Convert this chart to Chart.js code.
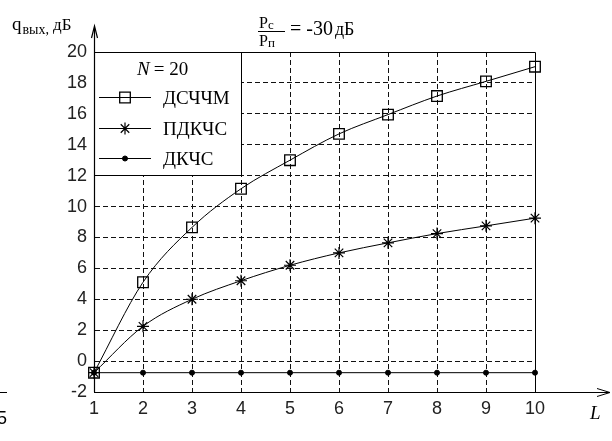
<!DOCTYPE html>
<html>
<head>
<meta charset="utf-8">
<script src="https://cdn.jsdelivr.net/npm/chart.js@4.4.0/dist/chart.umd.min.js"></script>
<style>
  html, body { margin: 0; padding: 0; background: #fff; }
  #wrap { width: 612px; height: 441px; }
</style>
</head>
<body>
<div id="wrap"><canvas id="chart" width="612" height="441"></canvas></div>
<script>
// data
const L_VALUES = [1, 2, 3, 4, 5, 6, 7, 8, 9, 10];
const DSCHCHM = [-0.75, 5.1, 8.65, 11.15, 13.0, 14.7, 15.95, 17.15, 18.1, 19.05];
const PDKCHS = [-0.75, 2.25, 4.0, 5.2, 6.2, 7.0, 7.65, 8.25, 8.75, 9.25];
const DKCHS = [-0.75, -0.75, -0.75, -0.75, -0.75, -0.75, -0.75, -0.75, -0.75, -0.75];
const SERIES_NAMES = ['ДСЧЧМ', 'ПДКЧС', 'ДКЧС'];
const Y_TICKS = { min: -2, max: 20, step: 2 };
const X_TICKS = { min: 1, max: 10, step: 1 };

const ink = '#000';
const tickFont = { family: 'Liberation Sans, Arial, sans-serif', size: 18 };
const serif = 'Liberation Serif, Times New Roman, serif';

function pts(ys) {
  return ys.map((y, i) => ({ x: L_VALUES[i], y: y }));
}

function hideEdge(min, max) {
  return function(c) {
    if (!c.tick) return ink;
    return (c.tick.value === min || c.tick.value === max) ? 'rgba(0,0,0,0)' : '#111';
  };
}

// writes pieces of text one after another, each with its own font and baseline shift
function runText(ctx, x, y, parts) {
  parts.forEach(p => {
    ctx.font = p.font;
    ctx.fillText(p.t, x, y + (p.dy || 0));
    x += ctx.measureText(p.t).width + (p.gap || 0);
  });
}

// frame, arrows, legend box and labels
const decor = {
  id: 'decor',
  beforeDatasetsDraw(chart) {
    const { ctx, chartArea: a } = chart;
    ctx.save();
    ctx.strokeStyle = ink;
    ctx.lineWidth = 1;
    ctx.beginPath();
    ctx.moveTo(a.left, a.top + 0.5);
    ctx.lineTo(a.right + 0.5, a.top + 0.5);
    ctx.lineTo(a.right + 0.5, a.bottom);
    ctx.stroke();
    ctx.restore();
  },
  afterDatasetsDraw(chart) {
    const { ctx, chartArea: a } = chart;
    const bw = 147, bh = 123;
    ctx.save();
    ctx.fillStyle = '#fff';
    ctx.fillRect(a.left + 1, a.top + 1, bw - 1, bh - 1);
    ctx.strokeStyle = ink;
    ctx.lineWidth = 1;
    ctx.beginPath();
    ctx.moveTo(a.left, a.top + bh + 0.5);
    ctx.lineTo(a.left + bw + 0.5, a.top + bh + 0.5);
    ctx.lineTo(a.left + bw + 0.5, a.top);
    ctx.stroke();

    ctx.fillStyle = ink;
    ctx.textBaseline = 'alphabetic';
    runText(ctx, a.left + 43, a.top + 23, [
      { t: 'N', font: 'italic 19px ' + serif, gap: 4 },
      { t: '= 20', font: '19px ' + serif }
    ]);

    const rows = [45, 76, 106];
    chart.data.datasets.forEach((ds, i) => {
      const y = a.top + rows[i];
      ctx.strokeStyle = ink;
      ctx.lineWidth = 1;
      ctx.beginPath();
      ctx.moveTo(a.left + 5, y + 0.5);
      ctx.lineTo(a.left + 57, y + 0.5);
      ctx.stroke();
      ctx.fillStyle = ds.pointBackgroundColor;
      ctx.strokeStyle = ink;
      ctx.lineWidth = ds.pointBorderWidth;
      Chart.helpers.drawPoint(ctx, {
        pointStyle: ds.pointStyle,
        radius: ds.pointRadius,
        rotation: 0,
        borderWidth: ds.pointBorderWidth
      }, a.left + 31, y + 0.5);
      ctx.fillStyle = ink;
      ctx.font = '19px ' + serif;
      ctx.fillText(ds.label, a.left + 69, y + 7);
    });
    ctx.restore();
  },
  afterDraw(chart) {
    const { ctx, chartArea: a } = chart;
    const ax = Math.round(a.left) + 0.5;
    ctx.save();
    ctx.strokeStyle = ink;
    ctx.fillStyle = ink;
    ctx.lineWidth = 1.2;
    // y axis arrow
    ctx.beginPath();
    ctx.moveTo(ax, a.bottom);
    ctx.lineTo(ax, a.top - 24);
    ctx.stroke();
    ctx.beginPath();
    ctx.moveTo(ax - 3, a.top - 14);
    ctx.lineTo(ax, a.top - 26);
    ctx.lineTo(ax + 3, a.top - 14);
    ctx.stroke();
    // x axis arrow
    ctx.lineWidth = 1;
    ctx.beginPath();
    ctx.moveTo(a.right, a.bottom + 0.5);
    ctx.lineTo(a.right + 74, a.bottom + 0.5);
    ctx.moveTo(a.right + 62, a.bottom - 3.5);
    ctx.lineTo(a.right + 75, a.bottom + 0.5);
    ctx.lineTo(a.right + 62, a.bottom + 4.5);
    ctx.stroke();
    // stray arrow at the left edge
    ctx.beginPath();
    ctx.moveTo(0, a.bottom + 0.5);
    ctx.lineTo(7, a.bottom + 0.5);
    ctx.stroke();

    ctx.textBaseline = 'alphabetic';
    // y axis title
    runText(ctx, 12, 30, [
      { t: 'q', font: '19px ' + serif, gap: 1 },
      { t: 'вых,', font: '14px ' + serif, dy: 4, gap: 4 },
      { t: 'дБ', font: '17px ' + serif }
    ]);
    // x axis title
    ctx.font = 'italic 19px ' + serif;
    ctx.fillText('L', 590, 419);
    // ratio title
    runText(ctx, 259, 28, [
      { t: 'P', font: '16px ' + serif },
      { t: 'c', font: '13px ' + serif, dy: 1 }
    ]);
    runText(ctx, 259, 46, [
      { t: 'P', font: '16px ' + serif },
      { t: 'п', font: '13px ' + serif, dy: 1 }
    ]);
    ctx.fillRect(258, 31, 27, 1);
    runText(ctx, 290, 35, [
      { t: '= -30', font: '20px ' + serif, gap: 2 },
      { t: 'дБ', font: '18px ' + serif }
    ]);
    // stray glyph at the left edge
    ctx.font = '18px ' + tickFont.family;
    ctx.fillText('5', -3, 424);
    ctx.restore();
  }
};

new Chart(document.getElementById('chart'), {
  type: 'line',
  data: {
    datasets: [{
      label: SERIES_NAMES[0],
      data: pts(DSCHCHM),
      borderColor: ink,
      borderWidth: 1,
      cubicInterpolationMode: 'monotone',
      pointStyle: 'rect',
      pointRadius: 7.5,
      pointBorderWidth: 1.3,
      pointBorderColor: ink,
      pointBackgroundColor: 'rgba(0,0,0,0)',
      clip: false
    }, {
      label: SERIES_NAMES[1],
      data: pts(PDKCHS),
      borderColor: ink,
      borderWidth: 1,
      cubicInterpolationMode: 'monotone',
      pointStyle: 'star',
      pointRadius: 6,
      pointBorderWidth: 1.2,
      pointBorderColor: ink,
      pointBackgroundColor: ink,
      clip: false
    }, {
      label: SERIES_NAMES[2],
      data: pts(DKCHS),
      borderColor: ink,
      borderWidth: 1,
      pointStyle: 'circle',
      pointRadius: 2.5,
      pointBorderWidth: 1,
      pointBorderColor: ink,
      pointBackgroundColor: ink,
      clip: false
    }]
  },
  options: {
    responsive: false,
    animation: false,
    devicePixelRatio: 1,
    layout: { padding: { top: 52, right: 77, left: 0, bottom: 0 } },
    plugins: {
      legend: { display: false },
      tooltip: { enabled: false }
    },
    scales: {
      x: {
        type: 'linear',
        min: X_TICKS.min,
        max: X_TICKS.max,
        ticks: { stepSize: X_TICKS.step, color: '#222', font: tickFont, padding: 6, maxRotation: 0 },
        grid: { color: hideEdge(X_TICKS.min, X_TICKS.max), lineWidth: 1, drawTicks: false },
        border: { display: true, color: ink, width: 1, dash: [5, 3] },
        afterFit(scale) { scale.height = 49; }
      },
      y: {
        type: 'linear',
        min: Y_TICKS.min,
        max: Y_TICKS.max,
        ticks: { stepSize: Y_TICKS.step, color: '#222', font: tickFont, padding: 7 },
        grid: { color: hideEdge(Y_TICKS.min, Y_TICKS.max), lineWidth: 1, drawTicks: false },
        border: { display: true, color: ink, width: 1, dash: [5, 3] },
        afterFit(scale) { scale.width = 94; }
      }
    }
  },
  plugins: [decor]
});
</script>
</body>
</html>
